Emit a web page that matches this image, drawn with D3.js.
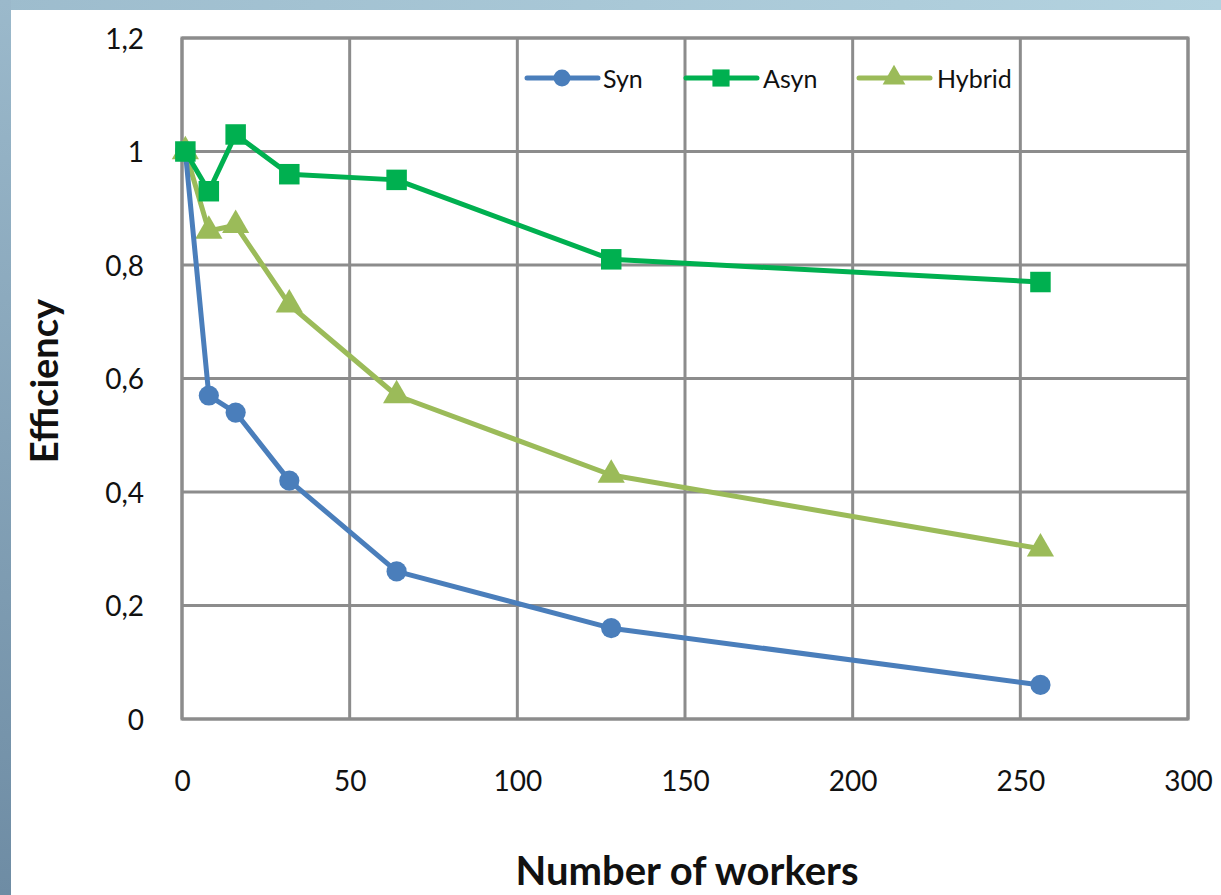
<!DOCTYPE html>
<html><head><meta charset="utf-8">
<script src="https://cdn.jsdelivr.net/npm/d3@7"></script>
<style>body{margin:0;background:#fff;overflow:hidden}</style>
</head><body>
<svg id="c" width="1221" height="895"></svg>
<script>
const workers = [1, 8, 16, 32, 64, 128, 256];
const synValues = [1.0, 0.57, 0.54, 0.42, 0.26, 0.16, 0.06];
const asynValues = [1.0, 0.93, 1.03, 0.96, 0.95, 0.81, 0.77];
const hybridValues = [1.0, 0.86, 0.87, 0.73, 0.57, 0.43, 0.30];
const seriesNames = ["Syn", "Asyn", "Hybrid"];
const xTicks = [0, 50, 100, 150, 200, 250, 300];
const yTicks = [0, 0.2, 0.4, 0.6, 0.8, 1, 1.2];

const svg = d3.select("#c");
const defs = svg.append("defs");
const gt = defs.append("linearGradient").attr("id","gt").attr("x1","0").attr("x2","1");
gt.append("stop").attr("offset","0").attr("stop-color","#9dbccd");
gt.append("stop").attr("offset","1").attr("stop-color","#b4d3e0");
const gl = defs.append("linearGradient").attr("id","gl").attr("x1","0").attr("x2","0").attr("y1","0").attr("y2","1");
gl.append("stop").attr("offset","0").attr("stop-color","#9bb9cb");
gl.append("stop").attr("offset","1").attr("stop-color","#6e8ca4");
svg.append("rect").attr("x",0).attr("y",0).attr("width",1221).attr("height",10).attr("fill","url(#gt)");
svg.append("rect").attr("x",0).attr("y",0).attr("width",11).attr("height",895).attr("fill","url(#gl)");

const x = d3.scaleLinear().domain([0,300]).range([182,1188]);
const y = d3.scaleLinear().domain([0,1.2]).range([719,38]);
const font = "Lato, 'Open Sans', sans-serif";

const grid = svg.append("g");
xTicks.forEach(t => grid.append("line").attr("x1",x(t)).attr("x2",x(t)).attr("y1",y(0)).attr("y2",y(1.2))
  .attr("stroke","#8c8c8c").attr("stroke-width",3));
yTicks.forEach(t => grid.append("line").attr("x1",x(0)).attr("x2",x(300)).attr("y1",y(t)).attr("y2",y(t))
  .attr("stroke","#8c8c8c").attr("stroke-width",3));
grid.append("rect").attr("x",x(0)).attr("y",y(1.2)).attr("width",x(300)-x(0)).attr("height",y(0)-y(1.2))
  .attr("fill","none").attr("stroke","#8c8c8c").attr("stroke-width",3);

const fmt = d => String(d).replace(".", ",");
const yAxis = svg.append("g").attr("transform",`translate(${x(0)},0)`)
  .call(d3.axisLeft(y).tickValues(yTicks).tickFormat(fmt).tickSize(0).tickPadding(38));
const xAxis = svg.append("g").attr("transform",`translate(0,${y(0)})`)
  .call(d3.axisBottom(x).tickValues(xTicks).tickFormat(d3.format("d")).tickSize(0).tickPadding(0));
[yAxis, xAxis].forEach(a => {
  a.select(".domain").remove();
  a.selectAll("text").attr("font-family",font).attr("font-size",28).attr("fill","#111");
});
yAxis.selectAll("text").attr("dy","0.36em");
xAxis.selectAll("text").attr("y",72).attr("dy",0);

svg.append("text").attr("x",687).attr("y",885).attr("text-anchor","middle")
  .attr("font-family",font).attr("font-weight","bold").attr("font-size",40).attr("fill","#111").text("Number of workers");
svg.append("text").attr("transform","translate(58,381) rotate(-90)").attr("text-anchor","middle")
  .attr("font-family",font).attr("font-weight","bold").attr("font-size",38).attr("fill","#111").text("Efficiency");

const series = [
  {name: seriesNames[0], values: synValues, color: "#4a7ebb", shape: d3.symbolCircle},
  {name: seriesNames[1], values: asynValues, color: "#00b050", shape: d3.symbolSquare},
  {name: seriesNames[2], values: hybridValues, color: "#9bbb59", shape: d3.symbolTriangle}
];
const line = d3.line().x((d,i)=>x(workers[i])).y(d=>y(d));
const sizes = {Syn: 320, Asyn: 420, Hybrid: 320};
[series[2], series[0], series[1]].forEach(s => {
  svg.append("path").attr("d", line(s.values)).attr("fill","none").attr("stroke",s.color)
    .attr("stroke-width",5).attr("stroke-linejoin","round").attr("stroke-linecap","round");
  svg.selectAll(null).data(s.values).enter().append("path")
    .attr("d", d3.symbol().type(s.shape).size(sizes[s.name]))
    .attr("transform",(d,i)=>`translate(${x(workers[i])},${y(d)})`).attr("fill",s.color);
});

const legX = [527, 686, 859];
const legTextX = [76, 77, 78];
series.forEach((s,i) => {
  const g = svg.append("g").attr("transform",`translate(${legX[i]},78)`);
  g.append("line").attr("x1",0).attr("x2",71).attr("y1",0).attr("y2",0).attr("stroke",s.color)
    .attr("stroke-width",5).attr("stroke-linecap","round");
  g.append("path").attr("d", d3.symbol().type(s.shape).size(sizes[s.name]*0.7)).attr("transform","translate(35,0)").attr("fill",s.color);
  g.append("text").attr("x",legTextX[i]).attr("y",10).attr("font-family",font).attr("font-size",25)
    .attr("fill","#111").text(s.name);
});
</script>
</body></html>
